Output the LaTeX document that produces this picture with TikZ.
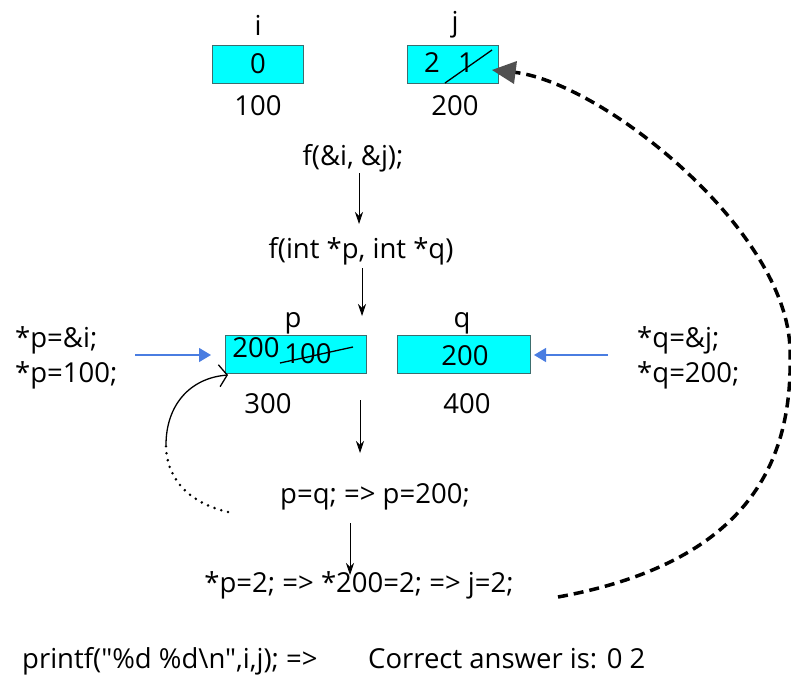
\documentclass[tikz,border=0pt]{standalone}
\usepackage{fontspec}
\setmainfont{Open Sans}[Ligatures=TeXOff]
\usetikzlibrary{arrows.meta}
\definecolor{cellcyan}{RGB}{0,255,255}
\definecolor{cellborder}{RGB}{60,110,110}
\definecolor{bluearrow}{RGB}{74,125,225}
\definecolor{tipgray}{RGB}{80,80,80}
\begin{document}
\begin{tikzpicture}[x=1pt,y=-1pt,
  font=\fontsize{27.5}{32}\selectfont,
  cell/.style={draw=cellborder, fill=cellcyan, line width=1pt, inner sep=0pt},
  txt/.style={inner sep=0pt, anchor=base},
  ltxt/.style={inner sep=0pt, anchor=base west},
  flow/.style={-{Stealth[length=12pt,width=8pt]}, line width=0.8pt},
  blue/.style={bluearrow, line width=1.2pt, -{Triangle[length=12pt,width=14pt]}},
  strike/.style={line width=1.3pt}
]
\useasboundingbox (0,0) rectangle (791,680);
% variables i and j
\draw[cell] (212,45) rectangle (303,83);
\draw[cell] (407,45) rectangle (498,83);
\node[txt] (li) at (258,35) {i};
\node[txt] (vi) at (258,73) {0};
\node[txt] (ai) at (258,115) {100};
\node[txt] (lj) at (455,31) {j};
\node[txt] (vj2) at (432,72) {2};
\node[txt] (vj1) at (466,72) {1};
\draw[strike] (445,83) -- (492,50);
\node[txt] (aj) at (455,115) {200};
% calls
\node[txt] (call) at (353,165) {f(\&i, \&j);};
\node[txt] (def) at (361,258) {f(int *p, int *q)};
\coordinate (a1s) at (359,173);
\coordinate (a1e) at (359,224);
\draw[flow] (a1s) -- (a1e);
\coordinate (a2s) at (362,268);
\coordinate (a2e) at (362,316);
\draw[flow] (a2s) -- (a2e);
% p and q
\draw[cell] (225,335) rectangle (366,373);
\draw[cell] (397,335) rectangle (530,373);
\node[txt] (lp) at (293,327) {p};
\node[txt] (lq) at (462,327) {q};
\node[txt] (vp2) at (256,357) {200};
\node[txt] (vp1) at (308,363) {100};
\draw[strike] (280,363) -- (353,347);
\node[txt] (vq) at (465,365) {200};
\node[txt] (ap) at (268,413) {300};
\node[txt] (aq) at (467,413) {400};
% side notes
\node[ltxt] (np1) at (15,347) {*p=\&i;};
\node[ltxt] (np2) at (15,382) {*p=100;};
\node[ltxt] (nq1) at (637,347) {*q=\&j;};
\node[ltxt] (nq2) at (637,382) {*q=200;};
\coordinate (bl1) at (135,355);
\coordinate (bl2) at (211,355);
\coordinate (br1) at (608,355);
\coordinate (br2) at (534,355);
\draw[blue] (bl1) -- (bl2);
\draw[blue] (br1) -- (br2);
% assignments
\coordinate (a3s) at (360,400);
\coordinate (a3e) at (360,453);
\draw[flow] (a3s) -- (a3e);
\node[txt] (pq) at (375,503) {p=q; => p=200;};
\coordinate (a4s) at (350,523);
\coordinate (a4e) at (350,575);
\draw[flow] (a4s) -- (a4e);
\node[txt] (deref) at (359,592) {*p=2; => *200=2; => j=2;};
% curved arrow back to p
\coordinate (cstart) at (228,512);
\coordinate (cmid) at (166,445);
\coordinate (cend) at (228,375);
\draw[line width=2.8pt, line cap=round, dash pattern=on 0pt off 7pt] (cstart) .. controls (185,502) and (166,475) .. (cmid);
\draw[line width=1.3pt, -{Straight Barb[length=8pt,width=22pt,line width=1.3pt]}] (cmid) .. controls (166,405) and (190,378) .. (cend);
% dashed back to j
\coordinate (dstart) at (558,597);
\coordinate (dmid) at (790,350);
\draw[line width=3.5pt, dash pattern=on 10pt off 6pt] (dstart) .. controls (760,560) and (793,450) .. (dmid) .. controls (788,230) and (600,80) .. (512,72);
\draw[fill=tipgray, draw=none] (492,70) -- (517,61) -- (514,84) -- cycle;
% printf
\node[ltxt] (pf) at (22,668) {printf("\%d \%d\textbackslash n",i,j); =>};
\node[ltxt] (ans) at (368,668) {Correct answer is: 0 2};
\end{tikzpicture}
\end{document}
